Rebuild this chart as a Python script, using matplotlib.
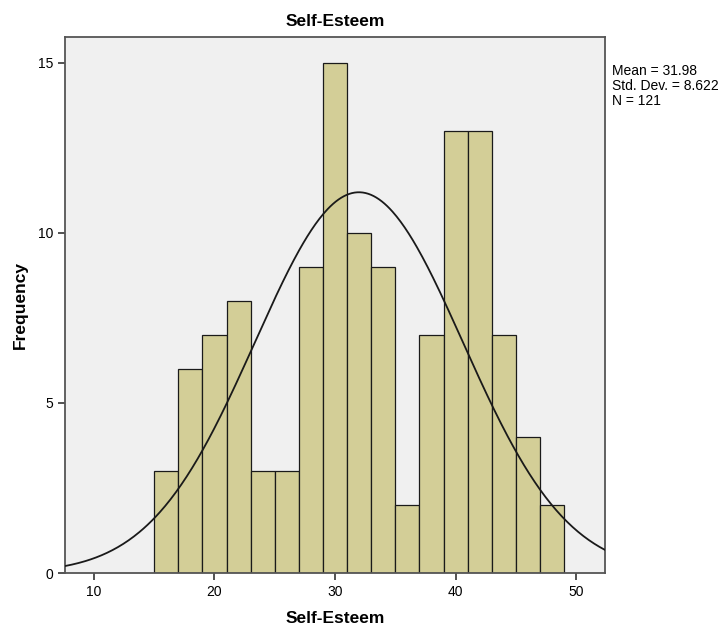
import numpy as np
import matplotlib.pyplot as plt

plt.rcParams['font.family'] = ['Liberation Sans', 'DejaVu Sans']

# bins de ancho 2, de 15 a 49
bordes = [15, 17, 19, 21, 23, 25, 27, 29, 31, 33, 35, 37, 39, 41, 43, 45, 47, 49]
frecuencias = [3, 6, 7, 8, 3, 3, 9, 15, 10, 9, 2, 7, 13, 13, 7, 4, 2]
media = 31.98
desv = 8.622
n = 121

fig = plt.figure(figsize=(7.23, 6.29), dpi=100)
ax = fig.add_axes([0.0899, 0.089, 0.747, 0.852])
ax.set_facecolor('#f0f0f0')

ancho = bordes[1] - bordes[0]
ax.bar(bordes[:-1], frecuencias, width=ancho, align='edge',
       color='#d3ce97', edgecolor='#1a1a1a', linewidth=0.9, zorder=2)

# curva normal
xs = np.linspace(7.6, 52.4, 400)
ys = n * ancho / (desv * np.sqrt(2 * np.pi)) * np.exp(-0.5 * ((xs - media) / desv) ** 2)
ax.plot(xs, ys, color='#1a1a1a', linewidth=1.3, zorder=3)

ax.set_xlim(7.6, 52.4)
ax.set_ylim(0, 15.76)
ax.set_xticks([10, 20, 30, 40, 50])
ax.set_yticks([0, 5, 10, 15])
ax.tick_params(direction='out', length=5, width=1.2, labelsize=10, color='#333333')
for s in ax.spines.values():
    s.set_color('#555555')
    s.set_linewidth(1.3)

ax.set_title('Self-Esteem', fontsize=12.5, fontweight='bold', pad=8)
ax.set_xlabel('Self-Esteem', fontsize=12.5, fontweight='bold', labelpad=9)
ax.set_ylabel('Frequency', fontsize=12.5, fontweight='bold', labelpad=7)

fig.text(0.847, 0.898, 'Mean = 31.98\nStd. Dev. = 8.622\nN = 121',
         fontsize=10, va='top', ha='left', linespacing=1.1)

fig.savefig('out.png', dpi=100)
